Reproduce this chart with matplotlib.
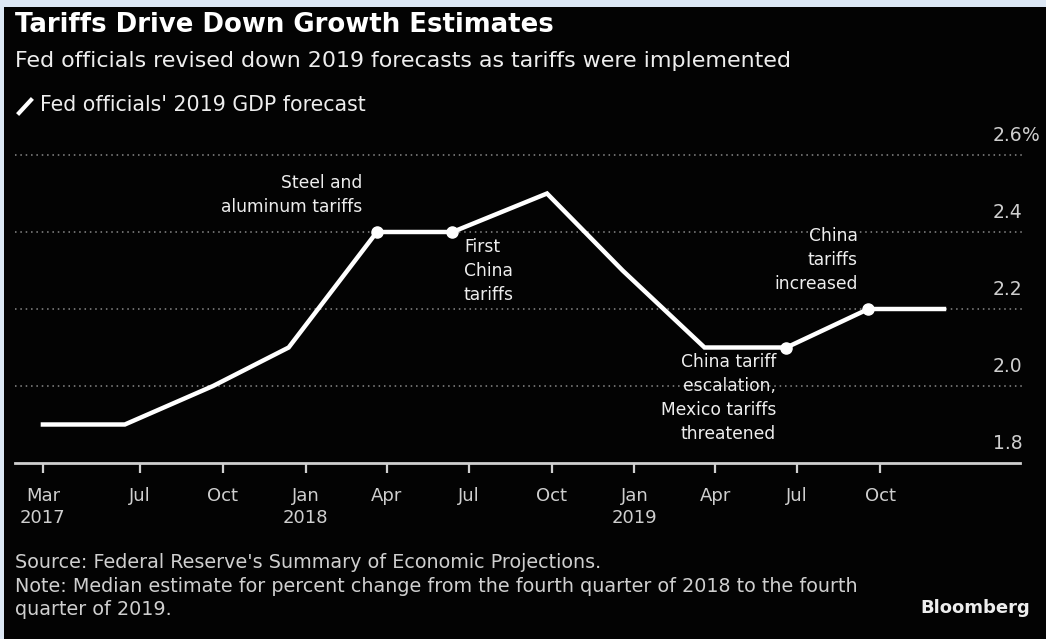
import pandas as pd
import matplotlib.pyplot as plt
import matplotlib.dates as mdates
from matplotlib.lines import Line2D

# Fed officials' median 2019 GDP forecast at each FOMC projection meeting
dates = ["2017-03-15", "2017-06-14", "2017-09-20", "2017-12-13",
         "2018-03-21", "2018-06-13", "2018-09-26", "2018-12-19",
         "2019-03-20", "2019-06-19", "2019-09-18", "2019-12-11"]
forecast = [1.9, 1.9, 2.0, 2.1, 2.4, 2.4, 2.5, 2.3, 2.1, 2.1, 2.2, 2.2]
marked = [4, 5, 9, 10]

tick_dates = ["2017-03-15", "2017-07-01", "2017-10-01", "2018-01-01",
              "2018-04-01", "2018-07-01", "2018-10-01", "2019-01-01",
              "2019-04-01", "2019-07-01", "2019-10-01"]
tick_labels = ["Mar\n2017", "Jul", "Oct", "Jan\n2018", "Apr", "Jul", "Oct",
               "Jan\n2019", "Apr", "Jul", "Oct"]
y_ticks = [1.8, 2.0, 2.2, 2.4, 2.6]

data = pd.DataFrame({"date": pd.to_datetime(dates), "gdp": forecast})

W, H = 1046, 639
BG = "#030303"
TXT = "#eeeeee"
GREY = "#cfcfcf"

plt.rcParams["font.family"] = "DejaVu Sans"

fig = plt.figure(figsize=(W / 100, H / 100), dpi=100, facecolor=BG)


def fx(x):
    return x / W


def fy(y):
    return 1 - y / H


# thin light-blue frame along the top and left edges
frame = "#dde8f5"
fig.patches.append(plt.Rectangle((0, fy(7)), 1, 1, transform=fig.transFigure,
                                 facecolor=frame, edgecolor="none"))
fig.patches.append(plt.Rectangle((0, 0), fx(4), 1, transform=fig.transFigure,
                                 facecolor=frame, edgecolor="none"))

ax = fig.add_axes([fx(15), fy(463), fx(1025) - fx(15), fy(140) - fy(463)])
ax.patch.set_alpha(0)

ax.plot(data["date"], data["gdp"], color="white", lw=3.2, solid_joinstyle="miter",
        marker="o", markersize=8, markevery=marked, zorder=3)

ax.set_xlim(pd.Timestamp("2017-02-12"), pd.Timestamp("2020-03-10"))
ax.set_ylim(1.8, 2.6 + 15 * 0.2 / 77)

for v in y_ticks[1:]:
    ax.axhline(v, color="#8a8a8a", lw=1.1, linestyle=(0, (1, 2.5)), zorder=1)

# value labels sit on the right, just above each gridline
for v in y_ticks:
    ax.annotate(f"{v:.1f}", xy=(1, v), xycoords=("axes fraction", "data"),
                xytext=(-2, 7), textcoords="offset points",
                ha="right", va="bottom", color=GREY, fontsize=13.5)
ax.annotate("%", xy=(1, 2.6), xycoords=("axes fraction", "data"),
            xytext=(-2, 7), textcoords="offset points",
            ha="left", va="bottom", color=GREY, fontsize=13.5)

for side in ["top", "right", "left"]:
    ax.spines[side].set_visible(False)
ax.spines["bottom"].set_color(GREY)
ax.spines["bottom"].set_linewidth(2)
ax.spines["bottom"].set_bounds(mdates.date2num(pd.Timestamp("2017-02-12")),
                               mdates.date2num(pd.Timestamp("2020-03-05")))

ax.set_yticks([])
ax.set_xticks(pd.to_datetime(tick_dates))
ax.set_xticklabels(tick_labels, color=GREY, fontsize=13, linespacing=1.3)
ax.tick_params(axis="x", direction="out", length=7, width=1.6, color=GREY, pad=10)
for lbl in ax.get_xticklabels():
    lbl.set_verticalalignment("top")
    lbl.set_multialignment("center")

# titles and key
fig.text(fx(15), fy(25), "Tariffs Drive Down Growth Estimates", fontsize=18.7,
         fontweight="bold", color="white", va="center", ha="left")
fig.text(fx(15), fy(61), "Fed officials revised down 2019 forecasts as tariffs were implemented",
         fontsize=15.9, color=TXT, va="center", ha="left")
fig.add_artist(Line2D([fx(19), fx(31)], [fy(113), fy(100)], color="white", lw=3,
                      transform=fig.transFigure))
fig.text(fx(40), fy(105), "Fed officials' 2019 GDP forecast", fontsize=14.8,
         color=TXT, va="center", ha="left")

# event notes
note = dict(fontsize=12.3, color=TXT, linespacing=1.45)
fig.text(fx(362), fy(195), "Steel and\naluminum tariffs", ha="right", va="center", **note)
fig.text(fx(464), fy(271), "First\nChina\ntariffs", ha="left", va="center", **note)
fig.text(fx(776), fy(398), "China tariff\nescalation,\nMexico tariffs\nthreatened",
         ha="right", va="center", **note)
fig.text(fx(858), fy(260), "China\ntariffs\nincreased", ha="right", va="center", **note)

# footer
fig.text(fx(15), fy(586), "Source: Federal Reserve's Summary of Economic Projections.\n"
         "Note: Median estimate for percent change from the fourth quarter of 2018 to the fourth\n"
         "quarter of 2019.", fontsize=13.8, color=GREY, va="center", ha="left", linespacing=1.27)
fig.text(fx(1030), fy(608), "Bloomberg", fontsize=13, fontweight="bold", color=TXT,
         va="center", ha="right")

fig.savefig("out.png", dpi=100, facecolor=fig.get_facecolor())
